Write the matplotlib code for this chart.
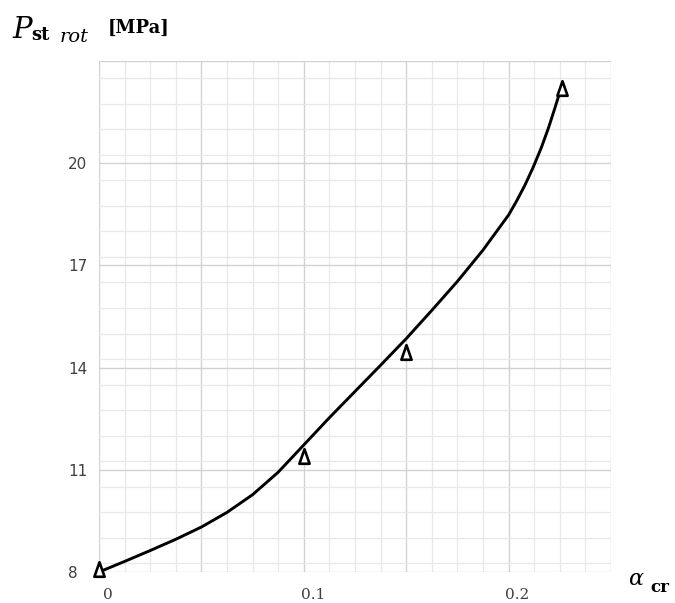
import matplotlib
matplotlib.use('Agg')
import matplotlib.pyplot as plt
from matplotlib.ticker import MultipleLocator
from matplotlib.transforms import ScaledTranslation
from matplotlib.path import Path

# curve
curve_x = [0.0, 0.0125, 0.025, 0.0375, 0.05, 0.0625, 0.075, 0.0875, 0.1, 0.1125,
           0.125, 0.1375, 0.15, 0.1625, 0.175, 0.1875, 0.2, 0.204, 0.208, 0.212,
           0.216, 0.2195, 0.2225, 0.2253]
curve_y = [8.0, 8.31, 8.63, 8.96, 9.32, 9.75, 10.27, 10.93, 11.73, 12.53,
           13.30, 14.07, 14.85, 15.68, 16.53, 17.45, 18.48, 18.90, 19.36, 19.88,
           20.46, 21.04, 21.60, 22.14]
# measured points (triangles)
mark_x = [0.0, 0.1, 0.15, 0.2259]
mark_y = [8.1, 11.41, 14.45, 22.2]

x_ticks = [0, 0.05, 0.1, 0.15, 0.2, 0.25]
x_labels = ['0', '', '0.1', '', '0.2', '']
y_ticks = [8, 11, 14, 17, 20, 23]
y_labels = ['8', '11', '14', '17', '20', '']

W, H = 675, 603
fig = plt.figure(figsize=(W / 100, H / 100), dpi=100)
ax = fig.add_axes([99 / W, 1 - 572 / H, (611 - 99) / W, (572 - 61) / H])
ax.set_xlim(0, 0.25)
ax.set_ylim(8, 23)
ax.set_xticks(x_ticks, x_labels)
ax.set_yticks(y_ticks, y_labels)
ax.xaxis.set_minor_locator(MultipleLocator(0.0125))
ax.yaxis.set_minor_locator(MultipleLocator(0.75))
ax.grid(which='major', color='#d2d2d2', lw=1.0)
ax.grid(which='minor', color='#e8e8e8', lw=0.9)
ax.set_axisbelow(True)
ax.tick_params(which='both', length=0)
for s in ax.spines.values():
    s.set_visible(False)

ax.tick_params(axis='y', pad=22.3, labelsize=11, labelcolor='#404040')
for lab in ax.get_yticklabels():
    lab.set_ha('left')
    lab.set_fontfamily('DejaVu Sans')
ax.tick_params(axis='x', pad=11.5, labelsize=11, labelcolor='#404040')
for lab in ax.get_xticklabels():
    lab.set_fontfamily('DejaVu Serif')
    lab.set_transform(lab.get_transform() + ScaledTranslation(0.09, 0, fig.dpi_scale_trans))

ax.plot(curve_x, curve_y, color='black', lw=2.1, solid_capstyle='round',
        solid_joinstyle='round', clip_on=False, zorder=3)
tri = Path([(-0.7, -1), (0.7, -1), (0, 1), (-0.7, -1)], closed=True)
ax.plot(mark_x, mark_y, ls='none', marker=tri, ms=10.5, mfc='white', mec='black', mew=1.9,
        clip_on=False, zorder=4)

def ftext(x, y, s, **kw):
    fig.text(x / W, 1 - y / H, s, va='baseline', ha='left', **kw)

ftext(12, 38, 'P', fontfamily='DejaVu Serif', style='italic', fontsize=21)
ftext(31, 40, 'st', fontfamily='DejaVu Serif', weight='bold', fontsize=13)
ftext(60, 42, 'rot', fontfamily='DejaVu Serif', style='italic', fontsize=14)
ftext(108, 33, '[MPa]', fontfamily='DejaVu Serif', weight='bold', fontsize=13)
ftext(628, 585, 'α', fontfamily='DejaVu Serif', style='italic', fontsize=16)
ftext(650, 592, 'cr', fontfamily='DejaVu Serif', weight='bold', fontsize=12)

fig.savefig('out.png', dpi=100)
